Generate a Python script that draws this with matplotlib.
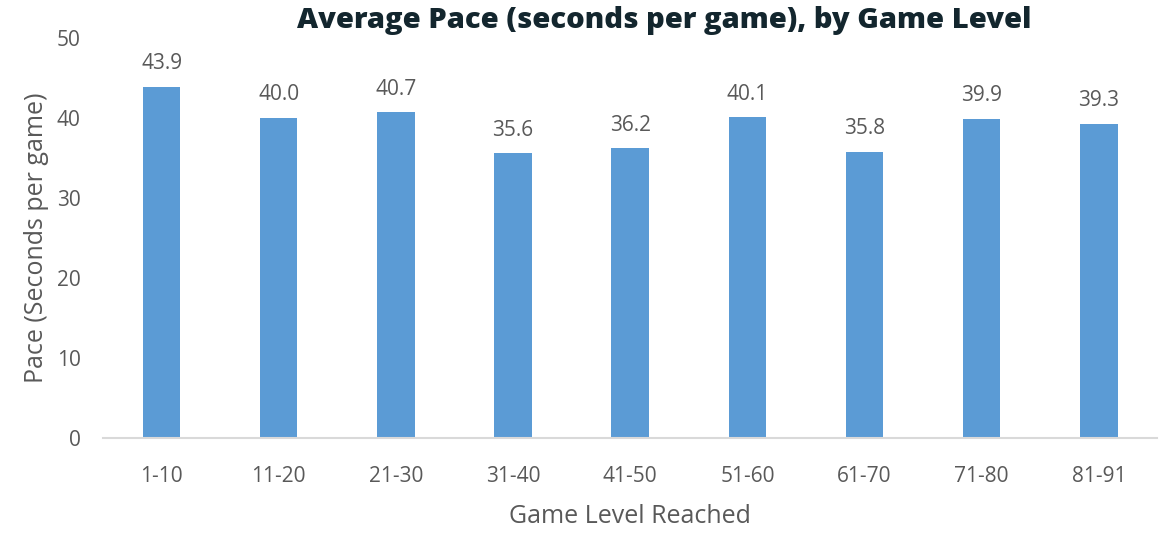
import matplotlib
matplotlib.use('Agg')
import matplotlib.pyplot as plt

# данные графика
levels = ['1-10', '11-20', '21-30', '31-40', '41-50', '51-60', '61-70', '71-80', '81-91']
pace = [43.9, 40.0, 40.7, 35.6, 36.2, 40.1, 35.8, 39.9, 39.3]
y_ticks = [0, 10, 20, 30, 40, 50]

BAR_COLOR = '#5B9BD5'
TEXT_COLOR = '#595959'

plt.rcParams['font.family'] = ['Open Sans', 'DejaVu Sans']

fig = plt.figure(figsize=(11.6, 5.33), dpi=100)
ax = fig.add_axes([0.0888, 0.178, 0.909, 0.751])

x = range(len(levels))
bars = ax.bar(x, pace, width=0.32, color=BAR_COLOR, zorder=2)

# подписи значений над столбцами
for rect, v in zip(bars, pace):
    ax.annotate(f'{v:.1f}', (rect.get_x() + rect.get_width() / 2, v),
                xytext=(0, 9), textcoords='offset points',
                ha='center', va='bottom', fontsize=15, color=TEXT_COLOR)

ax.set_xlim(-0.5, len(levels) - 0.5)
ax.set_ylim(0, 50)
ax.set_yticks(y_ticks)
ax.set_xticks(list(x))
ax.set_xticklabels(levels)

ax.tick_params(axis='both', length=0, labelsize=15, labelcolor=TEXT_COLOR)
ax.tick_params(axis='x', pad=20)
ax.tick_params(axis='y', pad=16)

for side in ['top', 'right', 'left']:
    ax.spines[side].set_visible(False)
ax.spines['bottom'].set_color('#D9D9D9')
ax.spines['bottom'].set_linewidth(1.5)

ax.set_xlabel('Game Level Reached', fontsize=18, color=TEXT_COLOR, labelpad=12)
ax.set_ylabel('Pace (Seconds per game)', fontsize=18, color=TEXT_COLOR, labelpad=6)

fig.text(0.573, 0.962, 'Average Pace (seconds per game), by Game Level',
         ha='center', va='center', fontsize=21, fontweight='heavy', color='#13262E')

fig.savefig('out.png', dpi=100)
